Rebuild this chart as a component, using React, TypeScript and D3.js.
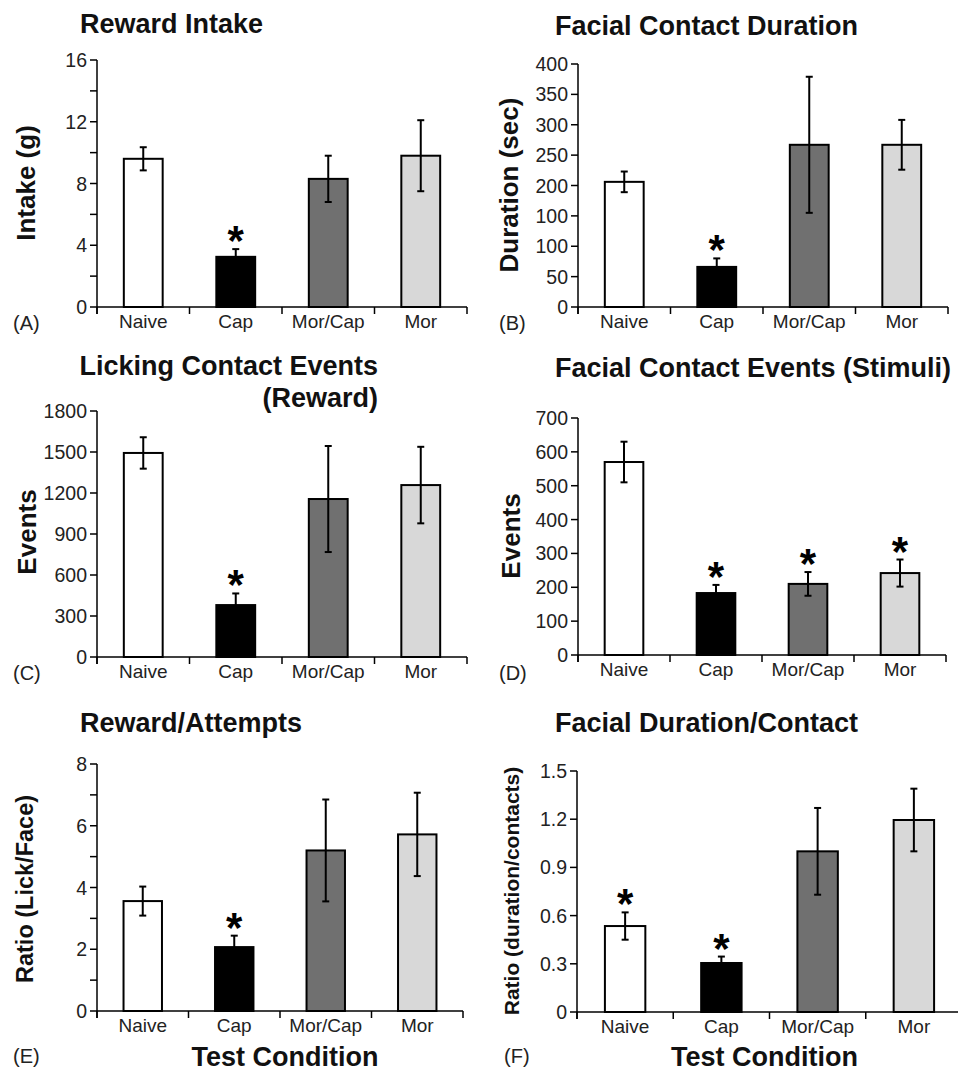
import React from "react";
import * as d3 from "d3";

// group names and their bar fills
const categories = ["Naive", "Cap", "Mor/Cap", "Mor"];
const barFills = ["#ffffff", "#000000", "#707070", "#d8d8d8"];

// (A) reward intake, grams
const intakeMean = [9.6, 3.25, 8.3, 9.8];
const intakeErr = [0.75, 0.5, 1.5, 2.3];
const intakeStars = [false, true, false, false];
const intakeTicks = [0, 4, 8, 12, 16];
const intakeTickLabels = ["0", "4", "8", "12", "16"];
const intakeMinor = [2, 6, 10, 14];

// (B) facial contact duration, sec
const durationMean = [206, 66, 267, 267];
const durationErr = [17, 14, 112, 41];
const durationStars = [false, true, false, false];
const durationTicks = [0, 50, 100, 150, 200, 250, 300, 350, 400];
// the original figure really prints "100" twice
const durationTickLabels = ["0", "50", "100", "100", "200", "250", "300", "350", "400"];

// (C) licking contact events
const lickMean = [1493, 380, 1156, 1258];
const lickErr = [115, 85, 388, 280];
const lickStars = [false, true, false, false];
const lickTicks = [0, 300, 600, 900, 1200, 1500, 1800];
const lickTickLabels = ["0", "300", "600", "900", "1200", "1500", "1800"];

// (D) facial contact events
const faceMean = [570, 183, 210, 242];
const faceErr = [60, 24, 35, 40];
const faceStars = [false, true, true, true];
const faceTicks = [0, 100, 200, 300, 400, 500, 600, 700];
const faceTickLabels = ["0", "100", "200", "300", "400", "500", "600", "700"];

// (E) reward / attempts ratio
const ratioMean = [3.56, 2.07, 5.2, 5.72];
const ratioErr = [0.47, 0.37, 1.65, 1.35];
const ratioStars = [false, true, false, false];
const ratioTicks = [0, 2, 4, 6, 8];
const ratioTickLabels = ["0", "2", "4", "6", "8"];
const ratioMinor = [1, 3, 5, 7];

// (F) duration per contact
const perContactMean = [0.535, 0.305, 1.0, 1.195];
const perContactErr = [0.085, 0.04, 0.27, 0.195];
const perContactStars = [true, true, false, false];
const perContactTicks = [0, 0.3, 0.6, 0.9, 1.2, 1.5];
const perContactTickLabels = ["0", "0.3", "0.6", "0.9", "1.2", "1.5"];

const FONT = "'Liberation Sans', Arial, Helvetica, sans-serif";

type Spec = {
  letter: string;
  title: string[];
  titleAnchor: "start" | "end";
  titleX: number;
  titleY: number;
  ylabel: string;
  ylabelSize: number;
  ylabelX: number;
  ylabelY: number;
  mean: number[];
  err: number[];
  stars: boolean[];
  max: number;
  ticks: number[];
  tickLabels: string[];
  minor: number[];
  x0: number;
  x1: number;
  yTop: number;
  y0: number;
  letterX: number;
  letterY: number;
  xlabel?: boolean;
};

const panels: Spec[] = [
  {
    letter: "(A)", title: ["Reward Intake"], titleAnchor: "start", titleX: 80, titleY: 33,
    ylabel: "Intake (g)", ylabelSize: 26, ylabelX: 26, ylabelY: 183,
    mean: intakeMean, err: intakeErr, stars: intakeStars, max: 16,
    ticks: intakeTicks, tickLabels: intakeTickLabels, minor: intakeMinor,
    x0: 97, x1: 467, yTop: 60, y0: 307, letterX: 13, letterY: 330,
  },
  {
    letter: "(B)", title: ["Facial Contact Duration"], titleAnchor: "start", titleX: 555, titleY: 35,
    ylabel: "Duration (sec)", ylabelSize: 26, ylabelX: 509, ylabelY: 185,
    mean: durationMean, err: durationErr, stars: durationStars, max: 400,
    ticks: durationTicks, tickLabels: durationTickLabels, minor: [],
    x0: 578, x1: 948, yTop: 64, y0: 307, letterX: 499, letterY: 330,
  },
  {
    letter: "(C)", title: ["Licking Contact Events", "(Reward)"], titleAnchor: "end", titleX: 378, titleY: 375,
    ylabel: "Events", ylabelSize: 26, ylabelX: 27, ylabelY: 532,
    mean: lickMean, err: lickErr, stars: lickStars, max: 1800,
    ticks: lickTicks, tickLabels: lickTickLabels, minor: [],
    x0: 97, x1: 467, yTop: 411, y0: 657, letterX: 13, letterY: 680,
  },
  {
    letter: "(D)", title: ["Facial Contact Events (Stimuli)"], titleAnchor: "start", titleX: 555, titleY: 377,
    ylabel: "Events", ylabelSize: 26, ylabelX: 511, ylabelY: 536,
    mean: faceMean, err: faceErr, stars: faceStars, max: 700,
    ticks: faceTicks, tickLabels: faceTickLabels, minor: [],
    x0: 578, x1: 946, yTop: 418, y0: 655, letterX: 499, letterY: 680,
  },
  {
    letter: "(E)", title: ["Reward/Attempts"], titleAnchor: "start", titleX: 80, titleY: 732,
    ylabel: "Ratio (Lick/Face)", ylabelSize: 23.5, ylabelX: 25, ylabelY: 889,
    mean: ratioMean, err: ratioErr, stars: ratioStars, max: 8,
    ticks: ratioTicks, tickLabels: ratioTickLabels, minor: ratioMinor,
    x0: 97, x1: 463, yTop: 764, y0: 1011, letterX: 13, letterY: 1063, xlabel: true,
  },
  {
    letter: "(F)", title: ["Facial Duration/Contact"], titleAnchor: "start", titleX: 555, titleY: 732,
    ylabel: "Ratio (duration/contacts)", ylabelSize: 21, ylabelX: 511, ylabelY: 891,
    mean: perContactMean, err: perContactErr, stars: perContactStars, max: 1.5,
    ticks: perContactTicks, tickLabels: perContactTickLabels, minor: [],
    x0: 577, x1: 962, yTop: 771, y0: 1012, letterX: 504, letterY: 1063, xlabel: true,
  },
];

function Panel({ s }: { s: Spec }) {
  const y = d3.scaleLinear().domain([0, s.max]).range([s.y0, s.yTop]);
  const x = d3
    .scaleBand<string>()
    .domain(categories)
    .range([s.x0, s.x1])
    .paddingInner(0.58)
    .paddingOuter(0.29);
  const bw = x.bandwidth();
  const step = x.step();
  const seps = d3.range(categories.length + 1).map((i) => s.x0 + i * step);

  return (
    <g>
      {s.title.map((t, i) => (
        <text
          key={t}
          x={s.titleX}
          y={s.titleY + i * 32}
          textAnchor={s.titleAnchor}
          fontSize={27}
          fontWeight="bold"
          fill="#111"
        >
          {t}
        </text>
      ))}
      <text
        transform={`translate(${s.ylabelX},${s.ylabelY}) rotate(-90)`}
        textAnchor="middle"
        dominantBaseline="central"
        fontSize={s.ylabelSize}
        fontWeight="bold"
        fill="#111"
      >
        {s.ylabel}
      </text>

      {/* bars */}
      {categories.map((c, i) => (
        <rect
          key={c}
          x={x(c)}
          y={y(s.mean[i])}
          width={bw}
          height={s.y0 - y(s.mean[i])}
          fill={barFills[i]}
          stroke="#000"
          strokeWidth={2}
        />
      ))}

      {/* error bars */}
      {categories.map((c, i) => {
        const cx = (x(c) as number) + bw / 2;
        const hi = y(s.mean[i] + s.err[i]);
        const lo = y(s.mean[i] - s.err[i]);
        return (
          <g key={c} stroke="#000" strokeWidth={2}>
            <line x1={cx} x2={cx} y1={hi} y2={lo} />
            <line x1={cx - 3.5} x2={cx + 3.5} y1={hi} y2={hi} />
            <line x1={cx - 3.5} x2={cx + 3.5} y1={lo} y2={lo} />
          </g>
        );
      })}

      {/* significance */}
      {categories.map((c, i) =>
        s.stars[i] ? (
          <text
            key={c}
            x={(x(c) as number) + bw / 2}
            y={y(s.mean[i] + s.err[i]) - 18 + 24}
            textAnchor="middle"
            fontSize={42}
            fontWeight="bold"
          >
            *
          </text>
        ) : null
      )}

      {/* y axis */}
      <g stroke="#000" strokeWidth={1.5}>
        <line x1={s.x0} x2={s.x0} y1={s.yTop} y2={s.y0 + 7} />
        {s.ticks.concat(s.minor).map((t) => (
          <line key={t} x1={s.x0 - 7} x2={s.x0} y1={y(t)} y2={y(t)} />
        ))}
      </g>
      {s.ticks.map((t, i) => (
        <text
          key={t}
          x={s.x0 - 10}
          y={y(t)}
          textAnchor="end"
          dominantBaseline="central"
          fontSize={19.5}
          fill="#222"
        >
          {s.tickLabels[i]}
        </text>
      ))}

      {/* x axis */}
      <g stroke="#000" strokeWidth={1.5}>
        <line x1={s.x0} x2={s.x1} y1={s.y0} y2={s.y0} />
        {seps.map((sx) => (
          <line key={sx} x1={sx} x2={sx} y1={s.y0} y2={s.y0 + 7} />
        ))}
      </g>
      {categories.map((c) => (
        <text
          key={c}
          x={(x(c) as number) + bw / 2}
          y={s.y0 + 21}
          textAnchor="middle"
          fontSize={19}
          fill="#222"
        >
          {c}
        </text>
      ))}

      <text x={s.letterX} y={s.letterY} fontSize={20} fill="#222">
        {s.letter}
      </text>
      {s.xlabel ? (
        <text
          x={(s.x0 + s.x1) / 2 + (s.x1 > 950 ? -5 : 5)}
          y={1066}
          textAnchor="middle"
          fontSize={27}
          fontWeight="bold"
          fill="#111"
        >
          Test Condition
        </text>
      ) : null}
    </g>
  );
}

export default function App() {
  return (
    <svg
      width={958}
      height={1071}
      style={{ position: "absolute", left: 0, top: 0, background: "#fff" }}
      fontFamily={FONT}
    >
      <rect width={958} height={1071} fill="#fff" />
      {panels.map((p) => (
        <Panel key={p.letter} s={p} />
      ))}
    </svg>
  );
}
